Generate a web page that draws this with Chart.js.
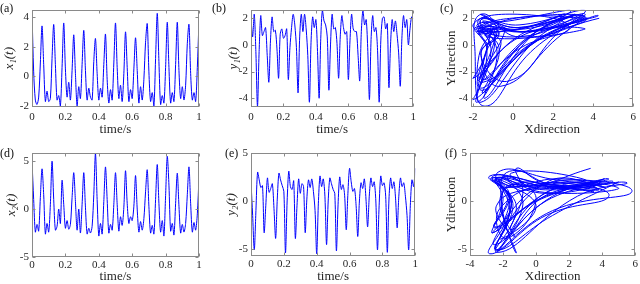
<!DOCTYPE html>
<html>
<head>
<meta charset="utf-8">
<script src="https://cdn.jsdelivr.net/npm/chart.js@4/dist/chart.umd.min.js"></script>
<style>
body { margin: 0; background: #fff; width: 640px; height: 284px; overflow: hidden; position: relative; }
canvas { position: absolute; }
.lab { position: absolute; font: 12px "Liberation Serif", serif; color: #111; }
</style>
</head>
<body>
<canvas id="cA" width="210" height="140" style="left:0;top:0"></canvas>
<canvas id="cB" width="210" height="140" style="left:210px;top:0"></canvas>
<canvas id="cC" width="220" height="140" style="left:420px;top:0"></canvas>
<canvas id="cD" width="210" height="144" style="left:0;top:140px"></canvas>
<canvas id="cE" width="210" height="144" style="left:210px;top:140px"></canvas>
<canvas id="cF" width="220" height="144" style="left:420px;top:140px"></canvas>
<div class="lab" style="left:0;top:1px">(a)</div>
<div class="lab" style="left:212px;top:1px">(b)</div>
<div class="lab" style="left:440px;top:1px">(c)</div>
<div class="lab" style="left:0;top:146px">(d)</div>
<div class="lab" style="left:225px;top:146px">(e)</div>
<div class="lab" style="left:445px;top:146px">(f)</div>
<script>
const x1Vals = [4.3, 0.3, -1.6, -1.9, -1.4, 0.9, 3.4, 0.8, -1.7, -1.0,
  -1.7, -1.5, 1.2, 3.5, 0.8, -1.6, -1.3, -2.0, 0.6, 3.6,
  0.5, -1.4, -0.4, -1.6, 0.4, 2.8, 0.2, -2.0, -0.7, -1.5,
  0.8, 3.1, 0.4, -1.6, -0.8, -1.4, -1.6, 1.0, 2.55, 0.2,
  -1.6, -0.8, -1.4, 0.8, 2.85, -0.2, -1.8, -0.9, -1.6, 0.9,
  3.6, 0.6, -1.5, -0.6, -1.7, 0.2, 3.0, 0.6, -1.7, -0.9,
  -1.5, 0.5, 2.6, 0.4, -1.8, -0.7, -1.6, -0.2, 2.3, 3.55,
  0.3, -1.7, -1.1, -2.0, 1.2, 4.25, 1.0, -1.9, -1.3, -1.8,
  0.6, 3.65, 0.6, -1.8, -1.1, -1.7, 0.8, 3.65, 0.4, -1.5,
  -0.7, -1.6, -0.6, 2.2, 3.5, 0.2, -1.6, -1.1, -1.7, 0.6, 3.75];
const y1Vals = [2.0, 0.6, 2.3, -0.5, -4.6, -0.5, 2.2, 0.7, 1.0, 1.3,
  -0.8, -2.8, 0.3, 2.1, 1.0, 1.1, -0.3, -2.5, 0.8, 1.2,
  0.5, 0.7, 1.2, -2.6, -0.2, 1.3, 2.3, 1.5, -0.2, -3.6,
  0.6, 2.3, 1.0, 2.3, 1.2, -0.8, -4.3, 0.2, 2.1, 1.3,
  1.9, -0.5, -4.0, 0.5, 2.6, 1.8, 1.5, 0.6, -3.4, 0.0,
  2.3, 1.2, 1.3, 0.1, -2.5, 0.6, 2.2, 1.3, 0.8, 1.0,
  -2.6, 0.3, 2.3, 1.2, 1.0, 1.0, -0.8, -2.7, 1.0, 2.6,
  1.5, 1.9, -0.5, -4.1, 0.4, 2.2, 1.0, 1.3, -0.4, -4.3,
  0.3, 2.0, 2.1, 1.2, 1.6, -3.2, 0.0, 1.9, 1.0, 1.8,
  0.8, -0.6, -3.1, 0.5, 2.2, 1.3, 1.9, 0.0, 1.2, 2.1, 2.0];
const x2Vals = [5.0, 1.0, -2.4, -1.6, -2.3, 1.2, 4.2, 1.5, -2.6, -1.5,
  -2.4, 0.5, 5.0, 1.0, -2.2, -1.8, 0.0, -1.5, 3.0, 0.5,
  -2.0, -1.2, -2.1, -1.6, 1.2, 3.8, 0.8, -2.2, 0.0, -2.5,
  0.5, 3.8, 0.2, -2.6, -2.0, -2.5, -1.8, 1.5, 5.8, 1.0,
  -2.8, -1.5, -2.6, 0.8, 4.4, 1.0, -2.5, -1.6, -2.2, 0.5,
  3.8, 0.5, -2.3, -0.8, -1.7, 0.2, 4.0, 0.6, -1.5, -0.8,
  -1.2, 0.3, 3.5, 0.0, -2.4, -1.3, -2.2, -1.0, 1.8, 4.1,
  0.3, -2.5, -1.7, -2.6, 1.0, 4.65, 0.6, -2.4, -1.2, -2.8,
  1.4, 5.5, 2.5, -2.3, -1.5, -2.7, 0.6, 3.75, 0.3, -2.5,
  -1.6, -2.4, -1.5, 1.5, 4.4, 0.6, -2.4, -1.4, -2.2, -0.5, 3.3];
const y2Vals = [2.0, -1.5, -5.1, -1.0, 3.0, 2.2, 1.4, 1.6, -3.3, -0.5,
  2.4, 0.9, 1.3, 1.8, -0.8, -3.9, 0.2, 2.9, 2.2, 1.6,
  1.0, -5.4, 0.0, 3.1, 1.5, 1.2, 2.1, -3.9, -0.5, 2.3,
  0.8, 1.8, 1.5, -3.3, 0.2, 2.2, 1.4, 2.3, 1.0, -1.0,
  -5.5, -0.3, 2.6, 1.5, 2.3, 0.5, -4.55, 0.0, 2.4, 1.8,
  1.2, 0.8, -5.2, -0.4, 2.5, 1.2, 1.7, 0.6, -3.0, 0.8,
  3.4, 2.0, 1.0, 1.3, -0.5, -3.7, 0.0, 1.9, 1.3, 2.3,
  0.2, -2.7, 0.5, 2.4, 1.5, 2.0, 0.0, -5.1, -0.5, 2.6,
  1.6, 1.9, 0.5, -5.35, 0.2, 2.4, 1.3, 2.0, 0.3, -2.8,
  0.5, 2.4, 1.5, 1.9, 0.5, -1.5, -5.1, -0.5, 2.2, 1.5, 3.4];

const timeTicks = [0, 0.2, 0.4, 0.6, 0.8, 1];
const yTicksA = [-2, 0, 2, 4];
const yTicksB = [-4, -2, 0, 2];
const xTicksC = [-2, 0, 2, 4, 6];
const yTicksD = [-5, 0, 5];
const yTicksE = [-5, 0, 5];
const xTicksF = [-4, -2, 0, 2, 4, 6];

const times = Array.from({ length: x1Vals.length }, (_, i) => i / 100);

const serif = '"Liberation Serif", "DejaVu Serif", serif';
const boxColor = '#8a8a8a';
const textColor = '#262626';

// MATLAB style box with inward ticks on all four sides
const boxPlugin = {
    id: 'box',
    afterDatasetsDraw(chart) {
        const { ctx, chartArea: a, scales } = chart;
        const L = Math.round(a.left) + 0.5, R = Math.round(a.right) - 0.5;
        const T = Math.round(a.top) + 0.5, B = Math.round(a.bottom) - 0.5;
        ctx.save();
        ctx.strokeStyle = boxColor;
        ctx.lineWidth = 1;
        ctx.strokeRect(L, T, R - L, B - T);
        ctx.beginPath();
        scales.x.ticks.forEach(t => {
            const px = Math.round(scales.x.getPixelForValue(t.value)) + 0.5;
            ctx.moveTo(px, B); ctx.lineTo(px, B - 3);
            ctx.moveTo(px, T); ctx.lineTo(px, T + 3);
        });
        scales.y.ticks.forEach(t => {
            const py = Math.round(scales.y.getPixelForValue(t.value)) + 0.5;
            ctx.moveTo(L, py); ctx.lineTo(L + 3, py);
            ctx.moveTo(R, py); ctx.lineTo(R - 3, py);
        });
        ctx.stroke();
        ctx.restore();
    }
};

function makePanel(id, p) {
    new Chart(document.getElementById(id), {
        type: 'scatter',
        data: {
            datasets: [{
                data: p.points,
                showLine: true,
                borderColor: '#0000ff',
                borderWidth: 1,
                pointRadius: 0,
                tension: p.tension,
                fill: false
            }]
        },
        options: {
            responsive: false,
            animation: false,
            layout: { padding: { top: p.padTop, right: p.padRight, left: 0, bottom: 0 } },
            plugins: { legend: { display: false }, tooltip: { enabled: false } },
            scales: {
                x: {
                    type: 'linear',
                    min: p.xRange[0], max: p.xRange[1],
                    afterFit: s => { s.height = p.xHeight; },
                    afterBuildTicks: s => { s.ticks = p.xTicks.map(v => ({ value: v })); },
                    grid: { display: false, drawTicks: false },
                    border: { display: false },
                    ticks: { font: { family: serif, size: 11 }, color: textColor, padding: p.xTickPad,
                             maxRotation: 0, autoSkip: false, callback: v => String(v) },
                    title: { display: true, text: p.xTitle, color: textColor,
                             font: { family: serif, size: 13 }, padding: { top: 0, bottom: p.xTitlePad } }
                },
                y: {
                    type: 'linear',
                    min: p.yRange[0], max: p.yRange[1],
                    afterFit: s => { s.width = p.yWidth; },
                    afterBuildTicks: s => { s.ticks = p.yTicks.map(v => ({ value: v })); },
                    grid: { display: false, drawTicks: false },
                    border: { display: false },
                    ticks: { font: { family: serif, size: 11 }, color: textColor, padding: 3,
                             autoSkip: false, callback: v => String(v) },
                    title: { display: true, text: p.yTitle, color: textColor,
                             font: { family: serif, size: 13, style: p.yItalic ? 'italic' : 'normal' },
                             padding: { top: p.yTitlePad, bottom: 0 } }
                }
            }
        },
        plugins: [boxPlugin]
    });
}

const series = (xs, ys) => xs.map((v, i) => ({ x: v, y: ys[i] }));

makePanel('cA', { points: series(times, x1Vals), xRange: [0, 1], yRange: [-2.07, 4.5], tension: 0.3,
    xTicks: timeTicks, yTicks: yTicksA, xTitle: 'time/s', yTitle: 'x₁(t)', yItalic: true,
    padTop: 5, padRight: 11, xHeight: 33, yWidth: 32, xTickPad: 4, xTitlePad: 3, yTitlePad: 2 });
makePanel('cB', { points: series(times, y1Vals), xRange: [0, 1], yRange: [-4.66, 2.65], tension: 0.3,
    xTicks: timeTicks, yTicks: yTicksB, xTitle: 'time/s', yTitle: 'y₁(t)', yItalic: true,
    padTop: 5, padRight: 2, xHeight: 33, yWidth: 41, xTickPad: 4, xTitlePad: 3, yTitlePad: 16 });
makePanel('cC', { points: series(x1Vals, y1Vals), xRange: [-2.1, 6], yRange: [-4.66, 2.65], tension: 0.5,
    xTicks: xTicksC, yTicks: yTicksB, xTitle: 'Xdirection', yTitle: 'Ydirection', yItalic: false,
    padTop: 5, padRight: 2, xHeight: 33, yWidth: 51, xTickPad: 4, xTitlePad: 3, yTitlePad: 24 });
makePanel('cD', { points: series(times, x2Vals), xRange: [0, 1], yRange: [-5, 5.85], tension: 0.3,
    xTicks: timeTicks, yTicks: yTicksD, xTitle: 'time/s', yTitle: 'x₂(t)', yItalic: true,
    padTop: 13, padRight: 11, xHeight: 27, yWidth: 32, xTickPad: 2, xTitlePad: 0, yTitlePad: 4 });
makePanel('cE', { points: series(times, y2Vals), xRange: [0, 1], yRange: [-5.73, 5], tension: 0.3,
    xTicks: timeTicks, yTicks: yTicksE, xTitle: 'time/s', yTitle: 'y₂(t)', yItalic: true,
    padTop: 13, padRight: 2, xHeight: 28, yWidth: 41, xTickPad: 2, xTitlePad: 0, yTitlePad: 14 });
makePanel('cF', { points: series(x2Vals, y2Vals), xRange: [-4, 6], yRange: [-5.73, 5], tension: 0.5,
    xTicks: xTicksF, yTicks: yTicksE, xTitle: 'Xdirection', yTitle: 'Ydirection', yItalic: false,
    padTop: 13, padRight: 2, xHeight: 28, yWidth: 50, xTickPad: 2, xTitlePad: 0, yTitlePad: 24 });
</script>
</body>
</html>
